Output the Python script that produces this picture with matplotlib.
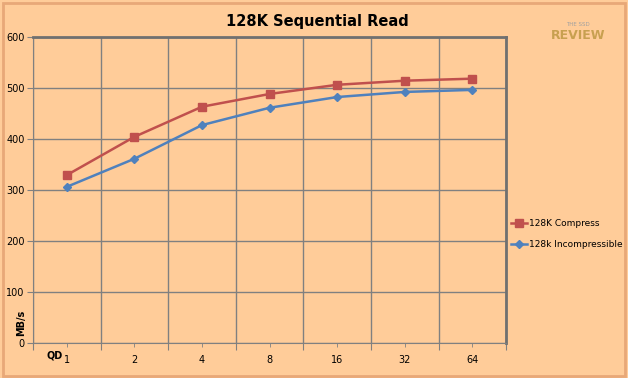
import matplotlib
matplotlib.use("Agg")
import matplotlib.pyplot as plt
from matplotlib.patches import Rectangle

categories = ["1", "2", "4", "8", "16", "32", "64"]
compress = [329, 404, 463, 488, 506, 514, 518]
incompressible = [306, 361, 427, 461, 482, 492, 496]
yticks = [0, 100, 200, 300, 400, 500, 600]

bg = "#FFCC99"
fig = plt.figure(figsize=(6.28, 3.78), dpi=100, facecolor=bg)
fig.patches.append(Rectangle((0.004, 0.006), 0.992, 0.985, transform=fig.transFigure,
                             fill=False, edgecolor="#E8A878", linewidth=2.0))
ax = fig.add_axes([0.0525, 0.0926, 0.7535, 0.810])
ax.set_facecolor(bg)

x = [i + 0.5 for i in range(len(categories))]
ax.plot(x, compress, color="#C0504D", marker="s", markersize=6, linewidth=1.8, label="128K Compress")
ax.plot(x, incompressible, color="#4F81BD", marker="D", markersize=4.5, linewidth=1.8, label="128k Incompressible")

ax.set_xlim(0, len(categories))
ax.set_ylim(0, 600)
ax.set_yticks(yticks)
ax.set_yticklabels([str(v) for v in yticks], fontsize=7)
ax.set_xticks(range(len(categories) + 1))
ax.set_xticklabels([])
ax.set_xticks(x, minor=True)
ax.set_xticklabels(categories, minor=True, fontsize=7)
ax.tick_params(axis="x", which="major", length=5, color="#808080")
ax.tick_params(axis="x", which="minor", length=3, color="#808080", pad=6)
ax.tick_params(axis="y", length=4, color="#808080", pad=2)
ax.grid(True, which="major", color="#808080", linewidth=1.0)
ax.set_axisbelow(True)
for side in ["left", "bottom"]:
    ax.spines[side].set_color("#808080")
for side in ["top", "right"]:
    ax.spines[side].set_color("#707070")
    ax.spines[side].set_linewidth(2.0)

fig.text(0.506, 0.942, "128K Sequential Read", ha="center", va="center", fontsize=10.5, fontweight="bold")
fig.text(0.087, 0.060, "QD", ha="center", va="center", fontsize=7, fontweight="bold")
fig.text(0.034, 0.145, "MB/s", ha="center", va="center", rotation=90, fontsize=7, fontweight="bold")
fig.text(0.92, 0.935, "THE SSD", ha="center", va="center", fontsize=4, color="#A0A0A0")
fig.text(0.92, 0.905, "REVIEW", ha="center", va="center", fontsize=9, fontweight="bold", color="#C8A050")

ax.legend(loc="center left", bbox_to_anchor=(0.998, 0.355), frameon=False, fontsize=6.5,
          handlelength=1.8, handletextpad=0.2, labelspacing=1.3, borderaxespad=0.2)

fig.savefig("out.png", dpi=100, facecolor=bg)
